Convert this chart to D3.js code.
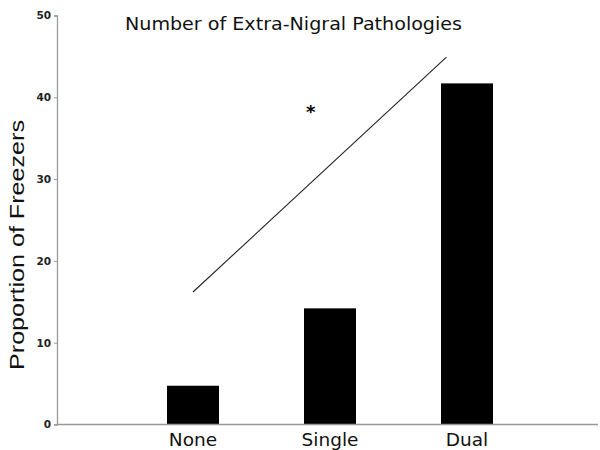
<!DOCTYPE html>
<html>
<head>
<meta charset="utf-8">
<script src="https://cdn.jsdelivr.net/npm/d3@7"></script>
<style>
  body { margin: 0; background: #fff; }
  svg { display: block; }
</style>
</head>
<body>
<script>
// data
const categories = ["None", "Single", "Dual"];
const freezers = [4.74, 14.2, 41.7];
const yTicks = [0, 10, 20, 30, 40, 50];
// trend line, in category index units
const trendIdx = [0, 1.85];
const trendVal = [16.2, 44.9];
const starIdx = 0.86;
const starVal = 38.5;

const width = 600, height = 450;
const svg = d3.select("body").append("svg")
    .attr("width", width)
    .attr("height", height);

const y = d3.scaleLinear().domain([0, 50]).range([424.5, 15.5]);
const xi = d3.scaleLinear().domain([0, 2]).range([193, 467]);
const x = d3.scalePoint().domain(categories).range([193, 467]);
const barW = 52;

// bars
svg.append("g")
    .selectAll("rect")
    .data(categories)
    .enter()
    .append("rect")
    .attr("x", d => x(d) - barW / 2)
    .attr("width", barW)
    .attr("y", (d, i) => y(freezers[i]))
    .attr("height", (d, i) => y(0) - y(freezers[i]))
    .attr("fill", "black");

// y axis
const yAxis = svg.append("g")
    .attr("transform", "translate(57,0)")
    .call(d3.axisLeft(y).tickValues(yTicks).tickSize(3).tickPadding(3));
yAxis.select(".domain").attr("stroke", "#999").attr("stroke-width", 1.3);
yAxis.selectAll(".tick line").attr("stroke", "#999");
yAxis.selectAll("text")
    .attr("font-family", "DejaVu Sans, sans-serif")
    .attr("font-size", 10.5)
    .attr("font-weight", "bold")
    .attr("fill", "#222");

// baseline
svg.append("line")
    .attr("x1", 57).attr("x2", 598)
    .attr("y1", y(0)).attr("y2", y(0))
    .attr("stroke", "#999").attr("stroke-width", 1.3);

// category labels
svg.append("g")
    .selectAll("text")
    .data(categories)
    .enter()
    .append("text")
    .attr("x", d => x(d))
    .attr("y", 446)
    .attr("text-anchor", "middle")
    .attr("font-family", "DejaVu Sans, sans-serif")
    .attr("font-size", 18.5)
    .attr("fill", "#111")
    .text(d => d);

// trend line
svg.append("line")
    .attr("x1", xi(trendIdx[0])).attr("y1", y(trendVal[0]))
    .attr("x2", xi(trendIdx[1])).attr("y2", y(trendVal[1]))
    .attr("stroke", "#222").attr("stroke-width", 1.1);

// significance star
svg.append("text")
    .attr("x", xi(starIdx))
    .attr("y", y(starVal) + 8)
    .attr("text-anchor", "middle")
    .attr("font-family", "DejaVu Sans, sans-serif")
    .attr("font-size", 18)
    .attr("font-weight", "bold")
    .text("*");

// title
svg.append("text")
    .attr("x", 125)
    .attr("y", 30)
    .attr("font-family", "DejaVu Sans, sans-serif")
    .attr("font-size", 17.5)
    .attr("fill", "#111")
    .attr("textLength", 337)
    .attr("lengthAdjust", "spacingAndGlyphs")
    .text("Number of Extra-Nigral Pathologies");

// y label
svg.append("text")
    .attr("transform", "translate(24,245) rotate(-90)")
    .attr("text-anchor", "middle")
    .attr("font-family", "Liberation Sans, Arial, sans-serif")
    .attr("font-size", 20)
    .attr("fill", "#111")
    .attr("textLength", 250)
    .attr("lengthAdjust", "spacingAndGlyphs")
    .text("Proportion of Freezers");
</script>
</body>
</html>
